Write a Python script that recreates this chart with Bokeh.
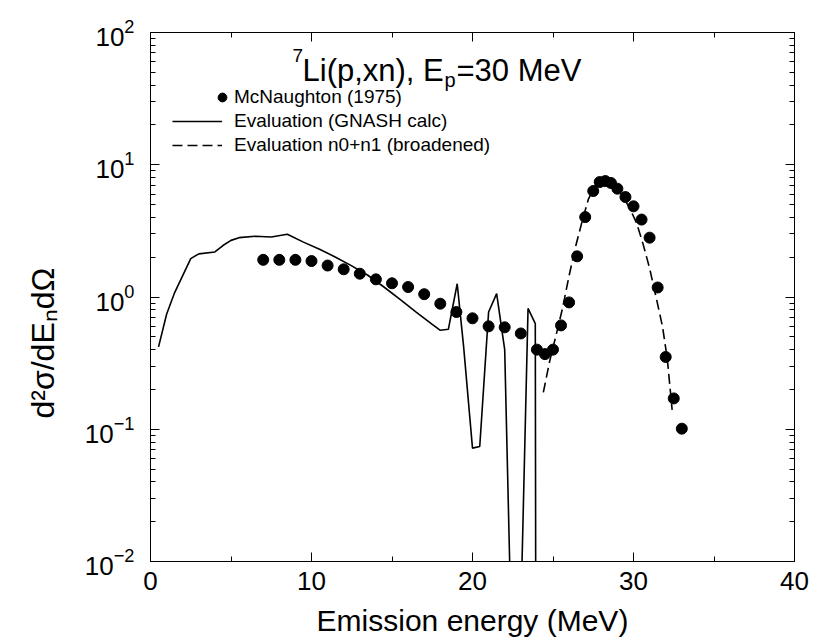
from bokeh.plotting import figure
from bokeh.models import (Label, Legend, LegendItem, LinearAxis, LogAxis, Title,
                          SingleIntervalTicker, LogTicker, ColumnDataSource,
                          CustomJSTickFormatter)
from bokeh.embed import file_html
from bokeh.resources import INLINE

FONT = "Liberation Sans"

# ---------------- data ----------------
# McNaughton (1975) measured points
exp_energy = [7, 8, 9, 10, 11, 12, 13, 14, 15, 16, 17, 18, 19, 20, 21, 22, 23,
              24, 24.5, 25, 25.5, 26, 26.5, 27, 27.5, 27.9, 28.25, 28.6, 29,
              29.5, 30, 30.5, 31, 31.5, 32, 32.5, 33]
exp_xs = [1.91, 1.91, 1.91, 1.87, 1.73, 1.62, 1.50, 1.36, 1.27, 1.19, 1.05,
          0.89, 0.77, 0.69, 0.60, 0.59, 0.53, 0.40, 0.37, 0.40, 0.61, 0.91,
          2.03, 4.02, 6.33, 7.40, 7.53, 7.28, 6.59, 5.70, 4.85, 3.85, 2.81,
          1.18, 0.352, 0.171, 0.101]

# Evaluation (GNASH calc)
calc_energy = [0.5, 1.0, 1.5, 2.0, 2.5, 3.0, 4.0, 4.5, 5.0, 5.5, 6.5, 7.5, 8.5,
               9.5, 10.5, 11.5, 12.5, 13.5, 14.5, 15.5, 16.5, 17.5, 18.0, 18.5,
               19.05, 19.45, 20.0, 20.45, 21.0, 21.5, 22.0, 22.5, 23.0, 23.45,
               23.9, 23.95]
calc_xs = [0.42, 0.74, 1.08, 1.45, 1.95, 2.12, 2.19, 2.45, 2.68, 2.81, 2.88,
           2.84, 2.98, 2.60, 2.30, 2.00, 1.72, 1.46, 1.19, 0.96, 0.77, 0.62,
           0.56, 0.57, 1.26, 0.42, 0.072, 0.074, 0.77, 1.06, 0.40, 0.001,
           0.004, 0.82, 0.63, 0.0001]

# Evaluation n0+n1 (broadened)
bro_energy = [24.4, 24.8, 25.2, 25.6, 26.0, 26.4, 26.8, 27.2, 27.6, 28.0, 28.3,
              28.6, 29.0, 29.4, 29.8, 30.2, 30.6, 31.0, 31.4, 31.8, 32.1, 32.4]
bro_xs = [0.19, 0.33, 0.52, 0.83, 1.45, 2.4, 3.7, 5.5, 6.9, 7.6, 7.7, 7.4, 6.6,
          5.6, 4.6, 3.6, 2.5, 1.65, 1.0, 0.6, 0.34, 0.14]

series_labels = ["McNaughton (1975)", "Evaluation (GNASH calc)",
                 "Evaluation n0+n1 (broadened)"]
x_title = "Emission energy (MeV)"
y_title = "d²σ/dEₙdΩ"

# ---------------- figure ----------------
p = figure(width=819, height=640, x_range=(0, 40), y_range=(1e-2, 1e2),
           y_axis_type="log", output_backend="svg", toolbar_location=None,
           min_border_left=150, min_border_right=25, min_border_top=32,
           min_border_bottom=79)
p.background_fill_color = "white"
p.border_fill_color = "white"
p.outline_line_color = "black"
p.outline_line_width = 1
p.xgrid.visible = False
p.ygrid.visible = False

def style_axis(ax):
    ax.axis_line_color = "black"
    ax.major_tick_line_color = "black"
    ax.minor_tick_line_color = "black"
    ax.major_tick_in = 9
    ax.major_tick_out = 0
    ax.minor_tick_in = 5
    ax.minor_tick_out = 0
    ax.major_label_text_font = FONT
    ax.major_label_text_color = "black"
    ax.axis_label_text_font = FONT
    ax.axis_label_text_font_style = "normal"
    ax.axis_label_text_color = "black"

xa = p.xaxis[0]
style_axis(xa)
xa.ticker = SingleIntervalTicker(interval=10, num_minor_ticks=2)
xa.major_label_text_font_size = "26px"
xa.major_label_standoff = 10
xa.axis_label = x_title
xa.axis_label_text_font_size = "30px"
xa.axis_label_text_line_height = 0.8
xa.axis_label_standoff = 11

ya = p.yaxis[0]
style_axis(ya)
ya.ticker = LogTicker(num_minor_ticks=10)
ya.major_label_text_font_size = "26px"
ya.major_label_standoff = 16

blank = CustomJSTickFormatter(code="return ''")

top = LinearAxis(ticker=SingleIntervalTicker(interval=10, num_minor_ticks=2),
                 formatter=blank)
style_axis(top)
top.major_label_standoff = 0
p.add_layout(top, "above")

right = LogAxis(ticker=LogTicker(num_minor_ticks=10), formatter=blank)
style_axis(right)
right.major_label_standoff = 0
p.add_layout(right, "right")

# y axis title as a side title so that it can be shifted along the axis
p.add_layout(Title(text=y_title, align="left", vertical_align="middle",
                   offset=143, standoff=40,
                   text_font=FONT, text_font_size="32px",
                   text_font_style="normal", text_color="black"), "left")

# ---------------- data glyphs ----------------
src_calc = ColumnDataSource(dict(x=calc_energy, y=calc_xs))
src_bro = ColumnDataSource(dict(x=bro_energy, y=bro_xs))
src_exp = ColumnDataSource(dict(x=exp_energy, y=exp_xs))

r_calc = p.line("x", "y", source=src_calc, line_color="black", line_width=1.6)
r_bro = p.line("x", "y", source=src_bro, line_color="black", line_width=1.6,
               line_dash="10 5")
r_exp = p.scatter("x", "y", source=src_exp, size=11, marker="circle",
                  fill_color="black", line_color="black")

common = dict(orientation="vertical", background_fill_alpha=0,
              border_line_alpha=0, padding=0, margin=0, spacing=0,
              label_text_font=FONT, label_text_font_size="19px",
              label_text_color="black", glyph_height=24, label_height=24)

legend_pts = Legend(items=[LegendItem(label=series_labels[0], renderers=[r_exp])],
                    location=(61, 452), glyph_width=22, label_standoff=1,
                    **common)
legend_lines = Legend(items=[LegendItem(label=series_labels[1], renderers=[r_calc]),
                             LegendItem(label=series_labels[2], renderers=[r_bro])],
                      location=(22, 404), glyph_width=50, label_standoff=12,
                      **common)
p.add_layout(legend_pts, "center")
p.add_layout(legend_lines, "center")

# ---------------- chart title built from pieces (super/subscript) --------
def px2x(px):
    return (px - 150.0) / 16.1

def py2y(py):
    return 10 ** (2 - (py - 32.0) / 132.3)

title_parts = [
    ("7", 292, 55, "19px"),
    ("Li(p,xn), E", 302, 70, "31px"),
    ("p", 444, 80, "20px"),
    ("=30 MeV", 456, 70, "31px"),
]
for txt, px, py, fs in title_parts:
    p.add_layout(Label(x=px2x(px), y=py2y(py), text=txt, text_font=FONT,
                       text_font_size=fs, text_color="black",
                       text_align="left", text_baseline="alphabetic"))

open("out.html", "w").write(file_html(p, INLINE))
